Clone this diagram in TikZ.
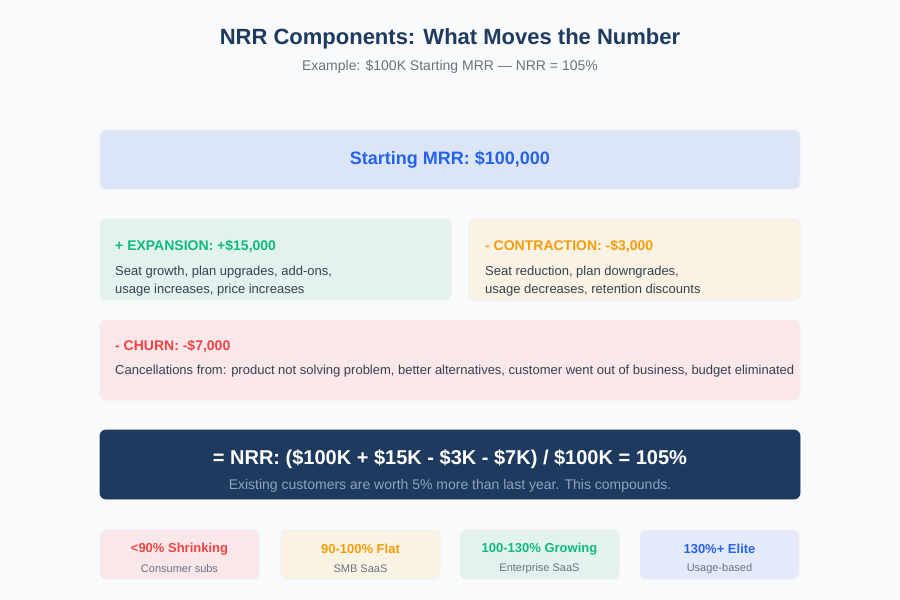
\documentclass[tikz,border=0pt]{standalone}
\usepackage{fontspec}
\setmainfont{Liberation Sans}
\usepackage{tikz}
\usetikzlibrary{positioning}

\definecolor{pagebg}{HTML}{F8FAFC}
\definecolor{navy}{HTML}{1E3A5F}
\definecolor{subgray}{HTML}{6B7280}
\definecolor{bodygray}{HTML}{374151}
\definecolor{mrrfill}{HTML}{DCE5F8}
\definecolor{mrrblue}{HTML}{2563EB}
\definecolor{expfill}{HTML}{E2F3EF}
\definecolor{expgreen}{HTML}{10B981}
\definecolor{confill}{HTML}{FAF2E3}
\definecolor{conorange}{HTML}{F59E0B}
\definecolor{chfill}{HTML}{F9E7EA}
\definecolor{chred}{HTML}{EF4444}
\definecolor{noteblue}{HTML}{8FA3BF}
\definecolor{tierblue}{HTML}{E4EAFA}
\definecolor{edgegray}{HTML}{EEF0F4}

\begin{document}
\begin{tikzpicture}[x=1pt,y=-1pt,
    cardbox/.style={rounded corners=6pt, draw=edgegray, line width=0.8pt},
    head/.style={anchor=west, inner sep=0pt, font=\fontsize{14}{16}\selectfont\bfseries},
    body/.style={anchor=west, inner sep=0pt, text=bodygray, font=\fontsize{13}{18}\selectfont, align=left},
    tierhead/.style={inner sep=0pt, font=\fontsize{13}{15}\selectfont\bfseries},
    tiernote/.style={inner sep=0pt, text=subgray, font=\fontsize{11}{13}\selectfont}]
    \fill[pagebg] (0,0) rectangle (900,600);
    \useasboundingbox (0,0) rectangle (900,600);

    \node[text=navy, font=\fontsize{22}{26}\selectfont\bfseries] (title) at (450,39) {NRR Components: What Moves the Number};
    \node[text=subgray, font=\fontsize{14}{16}\selectfont] (subtitle) at (450,67) {Example: \$100K Starting MRR — NRR = 105\%};

    \filldraw[cardbox, fill=mrrfill] (100,130) rectangle (800,189);
    \node[text=mrrblue, font=\fontsize{18}{21}\selectfont\bfseries] (mrr) at (450,160) {Starting MRR: \$100,000};

    \filldraw[cardbox, fill=expfill] (100,219) rectangle (451,300);
    \node[head, text=expgreen] (exphead) at (115,246) {+ EXPANSION: +\$15,000};
    \node[body] (expbody) at (115,281) {Seat growth, plan upgrades, add-ons,\\usage increases, price increases};

    \filldraw[cardbox, fill=confill] (469,219) rectangle (800,300);
    \node[head, text=conorange] (conhead) at (485,246) {- CONTRACTION: -\$3,000};
    \node[body] (conbody) at (485,281) {Seat reduction, plan downgrades,\\usage decreases, retention discounts};

    \filldraw[cardbox, fill=chfill] (100,320) rectangle (800,400);
    \node[head, text=chred] (chhead) at (115,346) {- CHURN: -\$7,000};
    \node[body] (chbody) at (115,371) {Cancellations from: product not solving problem, better alternatives, customer went out of business, budget eliminated};

    \filldraw[cardbox, draw=navy, fill=navy] (100,430) rectangle (800,499);
    \node[text=white, font=\fontsize{20}{24}\selectfont\bfseries] (nrr) at (450,459) {= NRR: (\$100K + \$15K - \$3K - \$7K) / \$100K = 105\%};
    \node[text=noteblue, font=\fontsize{14}{16}\selectfont] (nrrnote) at (450,486) {Existing customers are worth 5\% more than last year. This compounds.};

    \filldraw[cardbox, fill=chfill] (100,530) rectangle (259,579);
    \node[tierhead, text=chred] (t1) at (179.5,549) {<90\% Shrinking};
    \node[tiernote] (n1) at (179.5,569) {Consumer subs};

    \filldraw[cardbox, fill=confill] (281,530) rectangle (440,579);
    \node[tierhead, text=conorange] (t2) at (360.5,549) {90-100\% Flat};
    \node[tiernote] (n2) at (360.5,569) {SMB SaaS};

    \filldraw[cardbox, fill=expfill] (460,530) rectangle (619,579);
    \node[tierhead, text=expgreen] (t3) at (539.5,549) {100-130\% Growing};
    \node[tiernote] (n3) at (539.5,569) {Enterprise SaaS};

    \filldraw[cardbox, fill=tierblue] (640,530) rectangle (799,579);
    \node[tierhead, text=mrrblue] (t4) at (719.5,549) {130\%+ Elite};
    \node[tiernote] (n4) at (719.5,569) {Usage-based};
\end{tikzpicture}
\end{document}
